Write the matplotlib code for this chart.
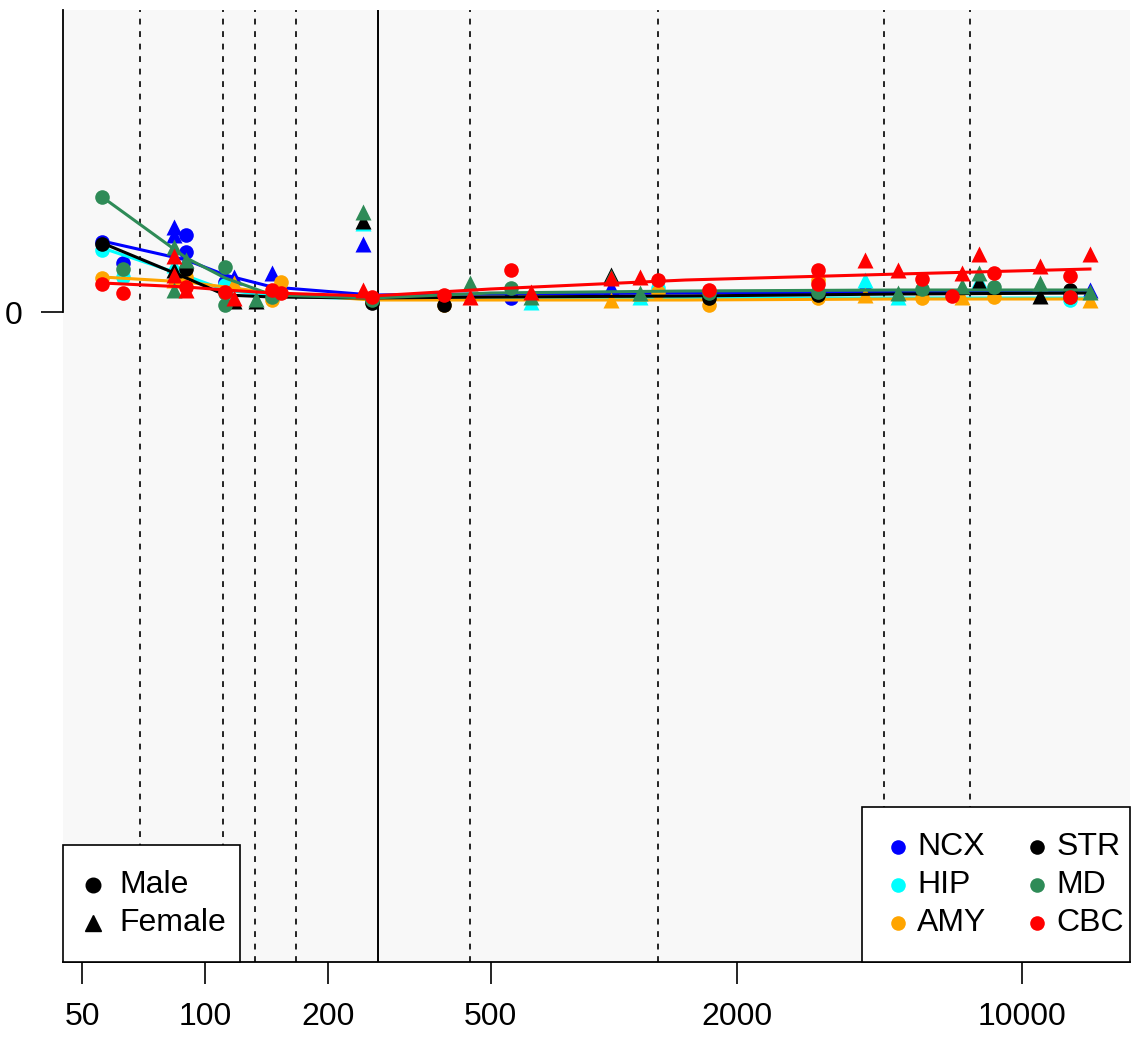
import matplotlib.pyplot as plt
from matplotlib.patches import Rectangle

plt.rcParams['font.family'] = ['Liberation Sans', 'DejaVu Sans']

# regions and colours
regions = ['NCX', 'HIP', 'AMY', 'STR', 'MD', 'CBC']
region_colors = ['#0000FF', '#00FFFF', '#FFA500', '#000000', '#2E8B57', '#FF0000']

# fitted trend per region (age, relative value)
fit_age = [56, 90, 112, 146, 256, 500, 1500, 5000, 14650]
fit_ncx = [0.71, 0.52, 0.37, 0.25, 0.17, 0.18, 0.19, 0.20, 0.20]
fit_hip = [0.64, 0.36, 0.22, 0.16, 0.13, 0.13, 0.14, 0.14, 0.14]
fit_amy = [0.35, 0.30, 0.25, 0.19, 0.12, 0.12, 0.12, 0.13, 0.13]
fit_str = [0.69, 0.34, 0.17, 0.15, 0.14, 0.15, 0.16, 0.18, 0.19]
fit_md = [1.15, 0.54, 0.34, 0.17, 0.14, 0.19, 0.21, 0.22, 0.22]
fit_cbc = [0.29, 0.25, 0.22, 0.19, 0.16, 0.23, 0.32, 0.38, 0.43]

# samples: (age, value)
ncx_m = [(56, 0.70), (63, 0.49), (90, 0.77), (90, 0.60), (112, 0.30), (561, 0.14),
         (1711, 0.16), (13090, 0.19)]
ncx_f = [(84, 0.85), (84, 0.77), (118, 0.35), (146, 0.39), (244, 0.68), (986, 0.25),
         (4123, 0.28), (7838, 0.27), (14650, 0.22)]
hip_m = [(56, 0.62), (63, 0.35), (112, 0.27), (1284, 0.24), (3164, 0.16), (13090, 0.12)]
hip_f = [(84, 0.47), (244, 0.89), (628, 0.10), (1160, 0.15), (4123, 0.32), (4966, 0.15),
         (7838, 0.32)]
amy_m = [(56, 0.34), (90, 0.35), (146, 0.12), (153, 0.30), (256, 0.10), (384, 0.07),
         (1284, 0.20), (1711, 0.07), (3164, 0.32), (3164, 0.14), (5684, 0.14), (8530, 0.15)]
amy_f = [(84, 0.32), (118, 0.29), (986, 0.12), (4123, 0.17), (7121, 0.15), (14650, 0.12)]
str_m = [(56, 0.68), (90, 0.43), (256, 0.09), (384, 0.07), (1711, 0.14), (3164, 0.17),
         (13090, 0.22)]
str_f = [(84, 0.42), (118, 0.11), (133, 0.11), (244, 0.91), (986, 0.37), (7838, 0.30),
         (11060, 0.16)]
md_m = [(56, 1.15), (63, 0.43), (112, 0.45), (112, 0.19), (112, 0.07), (146, 0.15),
        (256, 0.12), (561, 0.24), (1711, 0.19), (3164, 0.20), (5684, 0.23), (8530, 0.25),
        (13090, 0.15)]
md_f = [(84, 0.65), (84, 0.22), (90, 0.52), (133, 0.13), (244, 1.00), (445, 0.29),
        (628, 0.15), (986, 0.35), (1160, 0.19), (4966, 0.19), (7121, 0.26), (7838, 0.39),
        (11060, 0.29), (14650, 0.20)]
cbc_m = [(56, 0.28), (63, 0.19), (90, 0.25), (112, 0.20), (146, 0.22), (153, 0.19),
         (256, 0.15), (384, 0.17), (561, 0.42), (1284, 0.32), (1711, 0.22), (3164, 0.42),
         (3164, 0.28), (5684, 0.33), (6731, 0.16), (8530, 0.39), (13090, 0.36), (13090, 0.15)]
cbc_f = [(84, 0.56), (84, 0.37), (90, 0.22), (118, 0.14), (244, 0.22), (445, 0.15),
         (628, 0.20), (986, 0.34), (1160, 0.35), (4123, 0.52), (4966, 0.42), (7121, 0.39),
         (7838, 0.58), (11060, 0.46), (14650, 0.58)]

male = [ncx_m, hip_m, amy_m, str_m, md_m, cbc_m]
female = [ncx_f, hip_f, amy_f, str_f, md_f, cbc_f]
fits = [fit_ncx, fit_hip, fit_amy, fit_str, fit_md, fit_cbc]

# reference ages
dashed_ages = [69.3, 110.7, 132.6, 167, 445, 1284, 4589, 7453]
solid_age = 265

x_ticks = [50, 100, 200, 500, 2000, 10000]

fig = plt.figure(figsize=(11.35, 10.41), dpi=100)
ax = fig.add_axes([63 / 1135, 79 / 1041, 1067 / 1135, 952 / 1041])
ax.set_facecolor('#F8F8F8')
ax.set_xscale('log')
ax.set_xlim(44.9, 18360)
ax.set_ylim(-6.5, 3.02)

for a in dashed_ages:
    ax.axvline(a, color='black', lw=1.2, linestyle=(0, (3.5, 4.0)), zorder=1)
ax.axvline(solid_age, color='black', lw=1.4, zorder=1)

ms = 10.5
for pts_m, pts_f, fit, c in zip(male, female, fits, region_colors):
    ax.plot([p[0] for p in pts_m], [p[1] for p in pts_m], 'o', color=c, ms=ms,
            mec='none', zorder=3)
    ax.plot([p[0] for p in pts_f], [p[1] for p in pts_f], '^', color=c, ms=ms + 1,
            mec='none', zorder=3)
    ax.plot(fit_age, fit, '-', color=c, lw=2.2, zorder=3)

# axes
for s in ['top', 'right']:
    ax.spines[s].set_visible(False)
ax.spines['left'].set_bounds(0, 3.02)
ax.spines['left'].set_linewidth(1.3)
ax.spines['bottom'].set_linewidth(1.3)
ax.set_xticks(x_ticks)
ax.set_xticklabels([str(t) for t in x_ticks])
ax.xaxis.set_minor_locator(plt.NullLocator())
ax.set_yticks([0])
ax.set_yticklabels(['0'])
ax.tick_params(axis='both', length=16, width=1.2, labelsize=23)
ax.tick_params(axis='x', pad=13)
ax.tick_params(axis='y', pad=13)

# legends drawn by hand
T = ax.transAxes
ax.add_patch(Rectangle((0, 0), 0.166, 0.123, transform=T, facecolor='white',
                       edgecolor='black', lw=1.2, zorder=5, clip_on=False))
sex_labels = ['Male', 'Female']
sex_markers = ['o', '^']
for i, (lab, mk) in enumerate(zip(sex_labels, sex_markers)):
    fy = [0.0809, 0.041][i]
    ax.plot([0.0281], [fy], mk, color='black', ms=ms if mk == 'o' else ms + 1,
            transform=T, zorder=6, clip_on=False)
    ax.text(0.0525, fy, lab, transform=T, fontsize=23, va='center', ha='left', zorder=6)

ax.add_patch(Rectangle((0.7488, 0), 0.2512, 0.1628, transform=T, facecolor='white',
                       edgecolor='black', lw=1.2, zorder=5, clip_on=False))
rows = [0.1208, 0.0809, 0.041]
for i, (lab, c) in enumerate(zip(regions, region_colors)):
    col, row = divmod(i, 3)
    mx = [0.7826, 0.9128][col]
    tx = [0.8003, 0.9310][col]
    ax.plot([mx], [rows[row]], 'o', color=c, ms=ms, mec='none', transform=T, zorder=6,
            clip_on=False)
    ax.text(tx, rows[row], lab, transform=T, fontsize=23, va='center', ha='left', zorder=6)

fig.savefig('out.png', dpi=100)
